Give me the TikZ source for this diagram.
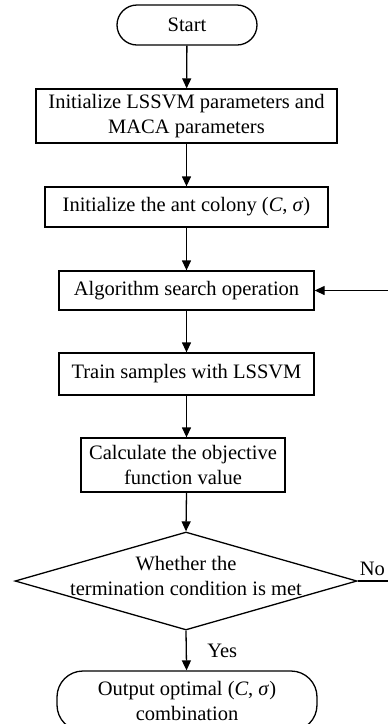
\documentclass[tikz,border=0pt]{standalone}
\usepackage{fontspec}
\setmainfont{Liberation Serif}
\usetikzlibrary{arrows.meta,shapes.geometric}
\begin{document}
\begin{tikzpicture}[x=1pt,y=-1pt,
  every node/.style={font=\fontsize{20.5}{25}\selectfont},
  box/.style={draw, line width=1.3pt, inner sep=0pt, align=center},
  term/.style={box, rounded corners=20pt},
  flow/.style={draw, line width=1.3pt, -{Triangle[length=10pt,width=9pt]}},
  ]
\useasboundingbox (0,0) rectangle (388,724);
\clip (0,0) rectangle (388,724);

% process steps
\node[term, minimum width=140pt, minimum height=40pt] (start) at (187,25) {Start};
\node[box, minimum width=301pt, minimum height=54pt] (init) at (186.5,116)
  {Initialize LSSVM parameters and\\MACA parameters};
\node[box, minimum width=283pt, minimum height=40pt] (colony) at (186.5,207)
  {Initialize the ant colony (\textit{C}, \textit{σ})};
\node[box, minimum width=255pt, minimum height=39pt] (search) at (186.5,290.5)
  {Algorithm search operation};
\node[box, minimum width=255pt, minimum height=42pt] (train) at (186.5,374)
  {Train samples with LSSVM};
\node[box, minimum width=204pt, minimum height=54pt] (objective) at (183,465)
  {Calculate the objective\\function value};

% decision
\node[draw, diamond, line width=1.3pt, inner sep=0pt,
      minimum width=342pt, minimum height=98pt] (check) at (186,581) {};
\node[align=center, inner sep=0pt] (checktext) at (186,576)
  {Whether the\\termination condition is met};

% result
\node[term, rounded corners=26pt, minimum width=260pt, minimum height=60pt] (result) at (187,701)
  {Output optimal (\textit{C}, \textit{σ})\\combination};

% connectors
\draw[flow] (start) -- (init);
\draw[flow] (init) -- (colony);
\draw[flow] (colony) -- (search);
\draw[flow] (search) -- (train);
\draw[flow] (train) -- (objective.north -| train.south);
\draw[flow] (objective.south -| train.south) -- (check.north);
\draw[flow] (check.south) -- node[right, xshift=17pt] {Yes} (result);

\coordinate (loopback) at (393,581);
\draw[flow] (check.east) -- node[above, inner sep=5pt, xshift=-3pt] {No} (loopback) |- (search.east);
\end{tikzpicture}
\end{document}
